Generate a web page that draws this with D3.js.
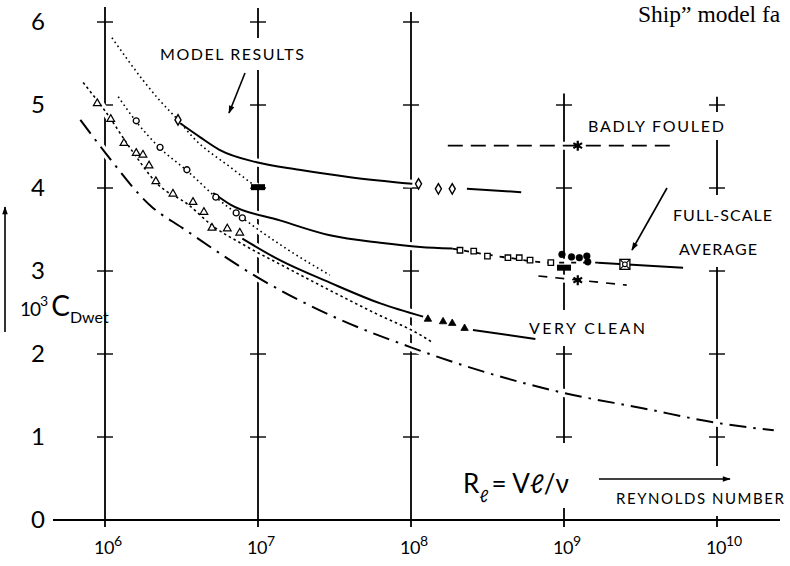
<!DOCTYPE html>
<html><head><meta charset="utf-8">
<script src="https://cdn.jsdelivr.net/npm/d3@7"></script>
<style>body{margin:0;background:#fff}svg{display:block;background:#fff}</style>
</head><body><svg id="c" width="790" height="566"></svg>
<script>
// ---------- data ----------
const decades = [1e6, 1e7, 1e8, 1e9, 1e10];
const decadeExp = ["6", "7", "8", "9", "10"];
const yTicks = [0, 1, 2, 3, 4, 5, 6];
const gridTop = [6.18, 6.17, 6.12, 5.14, 5.10];
const gridCross = [[1,2,3,4,5,6],[1,2,4,5,6],[1,2,3,4,5,6],[1,2,4,5],[1,2,3,4,5]];

// basic friction line (dash-dot)
const frictionLine = [[6.9e5,4.82],[1.0e6,4.43],[2.0e6,3.78],[3.2e6,3.52],[1e7,2.92],[3.2e7,2.44],[1e8,2.08],[3.2e8,1.77],[1e9,1.53],[3.2e9,1.35],[1e10,1.17],[2.35e10,1.08]];

// model results (dotted) with symbols
const topDotted = [[1.11e6,5.81],[1.77e6,5.30],[2.29e6,5.05],[3.0e6,4.82],[3.76e6,4.61],[6.6e6,4.25],[9.8e6,4.01]];
const circleDotted = [[1.22e6,5.10],[1.6e6,4.80],[2.29e6,4.48],[3.43e6,4.21],[5.3e6,3.89],[7.9e6,3.64],[1.5e7,3.28],[2.95e7,2.95]];
const circleMarks = [[1.6e6,4.81],[2.29e6,4.49],[3.43e6,4.22],[5.3e6,3.89],[7.2e6,3.70],[7.9e6,3.64]];
const triDotted = [[7.2e5,5.27],[1.0e6,4.93],[1.5e6,4.45],[2.2e6,4.05],[3.5e6,3.80],[5.0e6,3.55],[7.8e6,3.33],[1.5e7,3.05],[3.0e7,2.76],[6e7,2.48],[1.15e8,2.23],[1.38e8,2.14]];
const triMarks = [[8.9e5,5.02],[1.09e6,4.83],[1.33e6,4.54],[1.6e6,4.42],[1.77e6,4.40],[1.94e6,4.27],[2.15e6,4.08],[2.78e6,3.93],[3.76e6,3.83],[4.43e6,3.71],[5.0e6,3.52],[6.3e6,3.51],[7.6e6,3.46]];

// full-scale lines
const fouledSolid = [[3.1e6,4.78],[4.2e6,4.61],[5.6e6,4.46],[9.8e6,4.31],[1.86e7,4.22],[4.0e7,4.13],[1.02e8,4.05],null,[2.32e8,3.99],[5.25e8,3.95]];
const diamondMarks = [[3.0e6,4.82],[1.12e8,4.05],[1.51e8,3.99],[1.86e8,3.99]];
const avgSolid = [[5.1e6,3.94],[6.6e6,3.80],[1.39e7,3.61],[2.95e7,3.43],[6.3e7,3.34],[1.15e8,3.29],[1.86e8,3.27]];
const avgDashed = [[1.86e8,3.27],[4.3e8,3.16],[8.2e8,3.10],[1.67e9,3.10]];
const avgSolidB = [[1.67e9,3.10],[6.0e9,3.04]];
const squareMarks = [[2.09e8,3.25],[2.57e8,3.24],[3.16e8,3.18],[4.3e8,3.16],[5.1e8,3.16],[6.0e8,3.13],[8.2e8,3.10]];
const dotMarks = [[9.7e8,3.20],[1.12e9,3.17],[1.26e9,3.16],[1.41e9,3.18],[1.43e9,3.11]];
const barMarks = [[1e7,4.01],[1e9,3.04]];
const crossedSquare = [[2.5e9,3.08]];
const cleanSolid = [[7.9e6,3.39],[1.39e7,3.13],[2.95e7,2.86],[6.3e7,2.61],[1.2e8,2.45],null,[2.54e8,2.29],[6.5e8,2.18]];
const cleanMarks = [[1.29e8,2.42],[1.62e8,2.39],[1.86e8,2.37],[2.24e8,2.31]];
const badlyFouled = [[1.74e8,4.51],[5.4e9,4.51]];
const cleanDashed = [[6.8e8,2.94],[2.57e9,2.83]];
const starMarks = [[1.23e9,4.51],[1.23e9,2.89]];

// ---------- drawing ----------
const svg = d3.select("#c");
const x = d3.scaleLog().domain([1e6, 1e10]).range([105, 717]);
const y = d3.scaleLinear().domain([0, 6]).range([520, 22]);
const line = d3.line().defined(d => d !== null).x(d => x(d[0])).y(d => y(d[1])).curve(d3.curveMonotoneX);
const FONT = "Lato, 'Open Sans', sans-serif";

const defs = svg.append("defs");
defs.append("marker").attr("id","ah").attr("viewBox","0 0 10 10").attr("refX",9).attr("refY",5)
  .attr("markerWidth",10).attr("markerHeight",8).attr("markerUnits","userSpaceOnUse").attr("orient","auto")
  .append("path").attr("d","M0,1.5 L10,5 L0,8.5 Z").attr("fill","#000");

// grid verticals with cross ticks
const grid = svg.append("g").attr("stroke","#000");
decades.forEach((d,i) => {
  grid.append("line").attr("x1",x(d)).attr("x2",x(d)).attr("y1",y(gridTop[i])).attr("y2",y(0)+7).attr("stroke-width",1.8);
  grid.selectAll(null).data(gridCross[i]).join("line")
    .attr("x1",x(d)-8).attr("x2",x(d)+8).attr("y1",v=>y(v)).attr("y2",v=>y(v)).attr("stroke-width",1.4);
});

// x axis baseline
svg.append("line").attr("x1",53).attr("x2",780).attr("y1",y(0)).attr("y2",y(0)).attr("stroke","#000").attr("stroke-width",2);

// y tick labels
svg.append("g").selectAll("text").data(yTicks).join("text")
  .attr("x",38).attr("y",v=>y(v)+8).attr("text-anchor","middle")
  .attr("font-family",FONT).attr("font-size",24).text(v=>v);

// x tick labels
const xl = svg.append("g").selectAll("text").data(decades).join("text")
  .attr("x",(d)=>x(d)-11).attr("y",554).attr("font-family",FONT).attr("font-size",18);
xl.append("tspan").attr("letter-spacing",-0.5).text("10");
xl.append("tspan").attr("dy",-8).attr("font-size",14).text((d,i)=>decadeExp[i]);

// label layer with white backgrounds (drawn before curves)
const bgLayer = svg.append("g");
const txtLayer = [];
function label(t, x0, yb, size, width, pad) {
  txtLayer.push({t, x0, yb, size, width, pad});
}
label("MODEL RESULTS", 160, 60, 16, 144, [6,10]);
label("BADLY FOULED", 588, 132, 16, 136, [4,8]);
label("FULL-SCALE", 673, 221, 16, 99, [4,14]);
label("AVERAGE", 679, 255, 16, 78, [4,12]);
label("VERY CLEAN", 529, 334, 16, 116, [4,12]);
label("REYNOLDS NUMBER", 616, 504, 15, 168, [4,12]);
bgLayer.selectAll("rect").data(txtLayer).join("rect")
  .attr("x",d=>d.x0-d.pad[0]).attr("y",d=>d.yb-d.size*0.75-d.pad[1]).attr("width",d=>d.width+2*d.pad[0])
  .attr("height",d=>d.size*0.75+2*d.pad[1]).attr("fill","#fff");
bgLayer.append("rect").attr("x",595).attr("y",466).attr("width",140).attr("height",26).attr("fill","#fff");
bgLayer.append("rect").attr("x",458).attr("y",443).attr("width",112).attr("height",65).attr("fill","#fff");
bgLayer.append("rect").attr("x",668).attr("y",200).attr("width",108).attr("height",66).attr("fill","#fff");

// curves
const curves = [
  {d: frictionLine, w: 2, dash: "17,7,2.5,7"},
  {d: topDotted, w: 1.6, dash: "1.6,3.2"},
  {d: circleDotted, w: 1.6, dash: "1.6,3.2"},
  {d: triDotted, w: 1.6, dash: "2.5,3"},
  {d: fouledSolid, w: 2, dash: null},
  {d: avgSolid, w: 2, dash: null},
  {d: avgDashed, w: 1.8, dash: "5,7"},
  {d: avgSolidB, w: 2, dash: null},
  {d: cleanSolid, w: 2, dash: null},
  {d: badlyFouled, w: 1.8, dash: "15,8"},
  {d: cleanDashed, w: 1.6, dash: "9,8"}
];
const halo = svg.append("g");
curves.forEach(c => halo.append("path").attr("d", line(c.d)).attr("fill","none").attr("stroke","#fff").attr("stroke-width",8));
const cg = svg.append("g");
curves.forEach(c => cg.append("path").attr("d", line(c.d)).attr("fill","none").attr("stroke","#000")
  .attr("stroke-width",c.w).attr("stroke-dasharray",c.dash));

// markers
const mk = svg.append("g");
function sym(data, type, size, fill, sw) {
  mk.selectAll(null).data(data).join("path")
    .attr("transform", d => `translate(${x(d[0])},${y(d[1])})`)
    .attr("d", d3.symbol(type, size)())
    .attr("fill", fill).attr("stroke", "#000").attr("stroke-width", sw);
}
sym(triMarks, d3.symbolTriangle, 26, "#fff", 1.2);
sym(circleMarks, d3.symbolCircle, 28, "#fff", 1.3);
sym(diamondMarks, d3.symbolDiamond, 32, "#fff", 1.4);
sym(squareMarks, d3.symbolSquare, 30, "#fff", 1.3);
sym(cleanMarks, d3.symbolTriangle, 24, "#000", 0.8);
sym(dotMarks, d3.symbolCircle, 36, "#000", 0.5);
sym(starMarks, d3.symbolAsterisk, 70, "none", 2.2);
sym(starMarks, d3.symbolCircle, 14, "#000", 0);
mk.selectAll(null).data(barMarks).join("rect")
  .attr("x", d => x(d[0]) - 7).attr("y", d => y(d[1]) - 3).attr("width", 14).attr("height", 6).attr("fill", "#000");
const cs = mk.selectAll(null).data(crossedSquare).join("g").attr("transform", d => `translate(${x(d[0])},${y(d[1])})`);
cs.append("rect").attr("x",-5).attr("y",-5).attr("width",10).attr("height",10).attr("fill","#fff").attr("stroke","#000").attr("stroke-width",1.3);
cs.append("path").attr("d","M-5,-5L-2,-2M5,-5L2,-2M-5,5L-2,2M5,5L2,2").attr("stroke","#000").attr("stroke-width",1.1);
cs.append("circle").attr("r",2.3).attr("fill","#fff").attr("stroke","#000").attr("stroke-width",1.1);

// texts
svg.append("g").selectAll("text").data(txtLayer).join("text")
  .attr("x", d => d.x0).attr("y", d => d.yb).attr("font-family", FONT).attr("font-size", d => d.size)
  .attr("textLength", d => d.width).attr("lengthAdjust", "spacing").text(d => d.t);

// formula
const f = svg.append("text").attr("x",463).attr("y",493).attr("font-family",FONT).attr("font-size",26);
f.append("tspan").text("R");
f.append("tspan").attr("dy",9).attr("font-size",17).text("ℓ");
f.append("tspan").attr("dy",-9).attr("dx",3).text("= Vℓ/ν");

// y axis label
const yl = svg.append("text").attr("x",20).attr("y",316).attr("font-family",FONT);
yl.append("tspan").attr("font-size",19).attr("letter-spacing",-1).text("10");
yl.append("tspan").attr("font-size",14).attr("dy",-10).text("3");
yl.append("tspan").attr("font-size",28).attr("dy",10).attr("dx",3).text("C");
yl.append("tspan").attr("font-size",16).attr("dy",7).text("Dwet");

// arrows
const arrows = [[5,332,5,207],[245,73,229,113],[667,188,632,250],[599,479,730,479]];
svg.append("g").selectAll("line").data(arrows).join("line")
  .attr("x1",d=>d[0]).attr("y1",d=>d[1]).attr("x2",d=>d[2]).attr("y2",d=>d[3])
  .attr("stroke","#000").attr("stroke-width",1.6).attr("marker-end","url(#ah)");

// page text fragment (serif)
svg.append("text").attr("x",638).attr("y",22).attr("font-family","'Liberation Serif', serif").attr("font-size",23.5)
  .text("Ship” model fa");
</script></body></html>
